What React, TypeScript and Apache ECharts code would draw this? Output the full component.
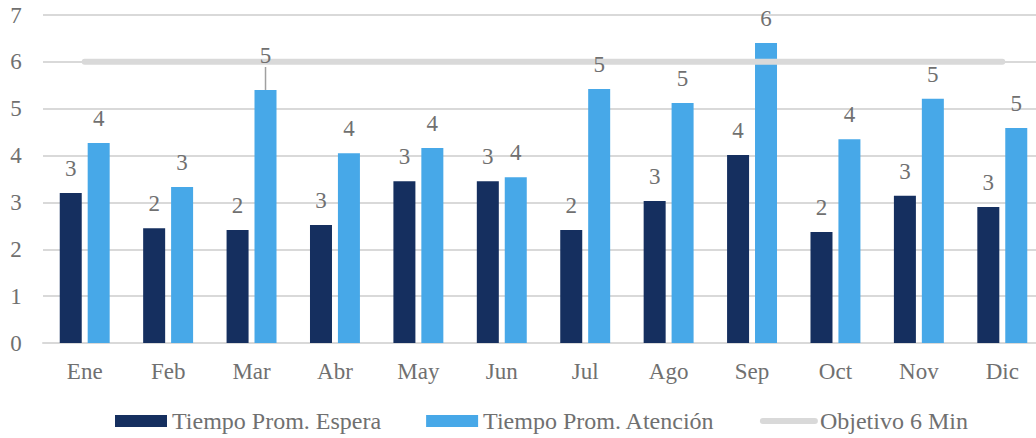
import React, { useEffect, useRef } from "react";
import * as echarts from "echarts";

const categories = ["Ene", "Feb", "Mar", "Abr", "May", "Jun", "Jul", "Ago", "Sep", "Oct", "Nov", "Dic"];
const espera = [3.2, 2.45, 2.41, 2.52, 3.45, 3.45, 2.41, 3.03, 4.01, 2.37, 3.14, 2.9];
const atencion = [4.27, 3.33, 5.4, 4.05, 4.16, 3.54, 5.42, 5.12, 6.4, 4.35, 5.21, 4.59];
const objetivo = [6, 6, 6, 6, 6, 6, 6, 6, 6, 6, 6, 6];
const yTicks = [0, 1, 2, 3, 4, 5, 6, 7];

const FONT = "Liberation Serif";
const TXT = "#707070";

export default function App() {
  const ref = useRef<HTMLDivElement>(null);
  useEffect(() => {
    if (!ref.current) return;
    const chart = echarts.init(ref.current, null, { renderer: "svg" });
    const mkLabel = (src: number[]) => ({
      show: true,
      position: "top" as const,
      distance: 13,
      color: TXT,
      fontFamily: FONT,
      fontSize: 23,
      formatter: (p: any) => String(Math.round(src[p.dataIndex])),
    });
    const zeros = categories.map(() => 0);
    const atencionLabelData = zeros.map((v, i) =>
      i === 2
        ? { value: v, labelLine: { show: true, showAbove: true, lineStyle: { color: "#a0a0a0", width: 1.5 } } }
        : v
    );
    chart.setOption({
      animation: false,
      textStyle: { fontFamily: FONT },
      grid: { left: 43, right: -8, top: 15, bottom: 95, outerBoundsMode: "none", containLabel: false },
      legend: {
        bottom: 0,
        left: 110,
        itemWidth: 52,
        itemHeight: 12,
        itemGap: 45,
        textStyle: { color: TXT, fontFamily: FONT, fontSize: 24 },
        data: [
          { name: "Tiempo Prom. Espera", icon: "rect" },
          { name: "Tiempo Prom. Atención", icon: "rect" },
          {
            name: "Objetivo 6 Min",
            itemStyle: { opacity: 0 },
            lineStyle: { color: "#d9d9d9", width: 6, cap: "round" },
          },
        ],
      },
      xAxis: {
        type: "category",
        data: categories,
        axisLine: { lineStyle: { color: "#d9d9d9", width: 2 } },
        axisTick: { show: false },
        axisLabel: { color: TXT, fontFamily: FONT, fontSize: 23, margin: 17 },
      },
      yAxis: {
        type: "value",
        min: yTicks[0],
        max: yTicks[yTicks.length - 1],
        interval: 1,
        axisLine: { show: false },
        axisTick: { show: false },
        splitLine: { lineStyle: { color: "#d9d9d9", width: 2 } },
        axisLabel: { color: TXT, fontFamily: FONT, fontSize: 23, margin: 27, align: "center" },
      },
      series: [
        {
          name: "Tiempo Prom. Espera",
          type: "bar",
          stack: "a",
          data: espera,
          barWidth: 22,
          barGap: "27%",
          itemStyle: { color: "#152f5f" },
          z: 3,
        },
        {
          name: "Tiempo Prom. Espera",
          type: "bar",
          stack: "a",
          data: zeros,
          barWidth: 22,
          itemStyle: { color: "transparent" },
          label: mkLabel(espera),
          silent: true,
          z: 6,
        },
        {
          name: "Tiempo Prom. Atención",
          type: "bar",
          stack: "b",
          data: atencion,
          barWidth: 22,
          itemStyle: { color: "#47a8e8" },
          z: 3,
        },
        {
          name: "Tiempo Prom. Atención",
          type: "bar",
          stack: "b",
          data: atencionLabelData,
          barWidth: 22,
          itemStyle: { color: "transparent" },
          label: mkLabel(atencion),
          labelLayout: (p: any) => (p.dataIndex === 2 ? { dy: -10 } : {}),
          silent: true,
          z: 6,
        },
        {
          name: "Objetivo 6 Min",
          type: "line",
          data: objetivo,
          symbol: "none",
          lineStyle: { color: "#d9d9d9", width: 6, cap: "round" },
          itemStyle: { color: "#d9d9d9" },
          z: 4,
        },
      ],
    });
    return () => chart.dispose();
  }, []);
  return (
    <div
      ref={ref}
      style={{ position: "fixed", left: 0, top: 0, width: 1036, height: 438, background: "#fff" }}
    />
  );
}
